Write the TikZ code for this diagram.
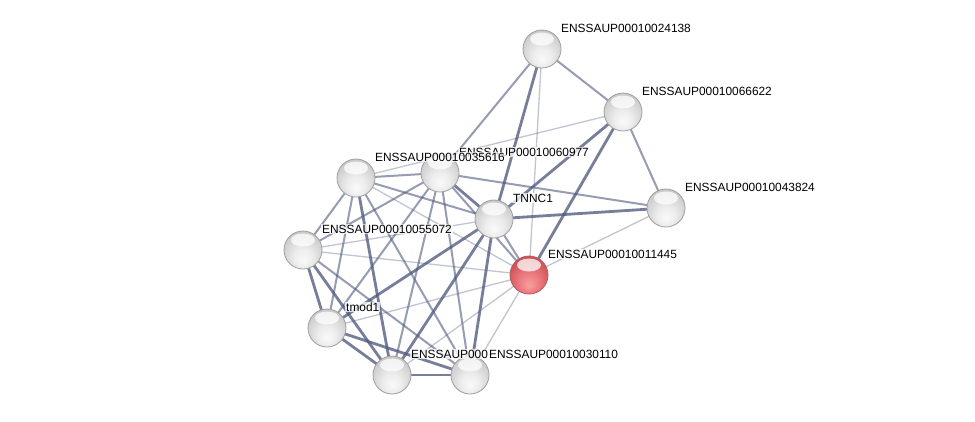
\documentclass[tikz,border=0pt]{standalone}
\usepackage{fontspec}
\setmainfont{Liberation Sans}
\pgfdeclarelayer{bg}
\pgfsetlayers{bg,main}
\definecolor{edgec}{RGB}{80,90,125}
\definecolor{rA}{RGB}{248,160,160}
\definecolor{rB}{RGB}{232,115,120}
\definecolor{rC}{RGB}{200,72,78}
\definecolor{rD}{RGB}{165,50,55}
\pgfdeclareradialshading{sphgray}{\pgfqpoint{0bp}{-14bp}}{color(0bp)=(gray!4); color(12bp)=(gray!14); color(26bp)=(gray!36); color(36bp)=(gray!52); color(50bp)=(gray!62)}
\pgfdeclareradialshading{sphred}{\pgfqpoint{0bp}{-14bp}}{color(0bp)=(rA); color(16bp)=(rB); color(32bp)=(rC); color(50bp)=(rD)}
\begin{document}
\begin{tikzpicture}[x=1pt,y=-1pt,
  ball/.style={circle,minimum size=38pt,inner sep=0pt,shading=sphgray,draw=gray!75,line width=0.8pt,
    path picture={\fill[white,opacity=0.75] ([yshift=10pt]path picture bounding box.center) ellipse (12pt and 6.5pt);}},
  redb/.style={ball,shading=sphred,draw=rD!80},
  lbl/.style={anchor=west,font=\fontsize{11.9}{13}\selectfont,fill=white,fill opacity=0.75,text opacity=1,inner sep=1pt},
  wa/.style={draw=edgec,line width=1.3pt,draw opacity=0.35},
  wb/.style={draw=edgec,line width=2pt,draw opacity=0.6},
  wc/.style={draw=edgec,line width=2.8pt,draw opacity=0.78}]
\useasboundingbox (0,0) rectangle (975,421);
\node[ball] (A) at (542,49) {};
\node[ball] (B) at (623,112) {};
\node[ball] (C) at (666,208) {};
\node[ball] (D) at (440,173) {};
\node[ball] (E) at (356,178) {};
\node[ball] (F) at (494,219) {};
\node[ball] (G) at (303,250) {};
\node[redb] (H) at (529,275) {};
\node[ball] (I) at (327,328) {};
\node[ball] (J) at (392,375) {};
\node[ball] (K) at (470,375) {};
\begin{pgfonlayer}{bg}
\fill[white] (0,0) rectangle (975,421);
\draw[wb] (A.center) -- (B.center);
\draw[wb] (A.center) -- (D.center);
\draw[wc] (A.center) -- (F.center);
\draw[wa] (A.center) -- (H.center);
\draw[wb] (B.center) -- (C.center);
\draw[wa] (B.center) -- (E.center);
\draw[wc] (B.center) -- (F.center);
\draw[wc] (B.center) -- (H.center);
\draw[wb] (C.center) -- (D.center);
\draw[wc] (C.center) -- (F.center);
\draw[wa] (C.center) -- (H.center);
\draw[wb] (D.center) -- (E.center);
\draw[wc] (D.center) -- (F.center);
\draw[wb] (D.center) -- (G.center);
\draw[wb] (D.center) -- (I.center);
\draw[wb] (D.center) -- (J.center);
\draw[wb] (D.center) -- (K.center);
\draw[wb] (D.center) -- (H.center);
\draw[wb] (E.center) -- (F.center);
\draw[wb] (E.center) -- (G.center);
\draw[wb] (E.center) -- (I.center);
\draw[wc] (E.center) -- (J.center);
\draw[wb] (E.center) -- (K.center);
\draw[wa] (E.center) -- (H.center);
\draw[wa] (F.center) -- (G.center);
\draw[wc] (F.center) -- (I.center);
\draw[wc] (F.center) -- (J.center);
\draw[wc] (F.center) -- (K.center);
\draw[wb] (F.center) -- (H.center);
\draw[wa] (G.center) -- (H.center);
\draw[wc] (G.center) -- (I.center);
\draw[wc] (G.center) -- (J.center);
\draw[wb] (G.center) -- (K.center);
\draw[wc] (I.center) -- (J.center);
\draw[wc] (I.center) -- (K.center);
\draw[wa] (I.center) -- (H.center);
\draw[wc] (J.center) -- (K.center);
\draw[wa] (J.center) -- (H.center);
\draw[wa] (K.center) -- (H.center);
\end{pgfonlayer}
\node[lbl] (LA) at ([shift={(18,-21)}]A.center) {ENSSAUP00010024138};
\node[lbl] (LB) at ([shift={(18,-21)}]B.center) {ENSSAUP00010066622};
\node[lbl] (LC) at ([shift={(18,-21)}]C.center) {ENSSAUP00010043824};
\node[lbl] (LD) at ([shift={(18,-21)}]D.center) {ENSSAUP00010060977};
\node[lbl] (LE) at ([shift={(18,-21)}]E.center) {ENSSAUP00010035616};
\node[lbl] (LF) at ([shift={(18,-21)}]F.center) {TNNC1};
\node[lbl] (LG) at ([shift={(18,-21)}]G.center) {ENSSAUP00010055072};
\node[lbl] (LH) at ([shift={(18,-21)}]H.center) {ENSSAUP00010011445};
\node[lbl] (LI) at ([shift={(18,-21)}]I.center) {tmod1};
\node[lbl] (LJ) at ([shift={(18,-21)}]J.center) {ENSSAUP000};
\node[lbl] (LK) at ([shift={(18,-21)}]K.center) {ENSSAUP00010030110};
\end{tikzpicture}
\end{document}
